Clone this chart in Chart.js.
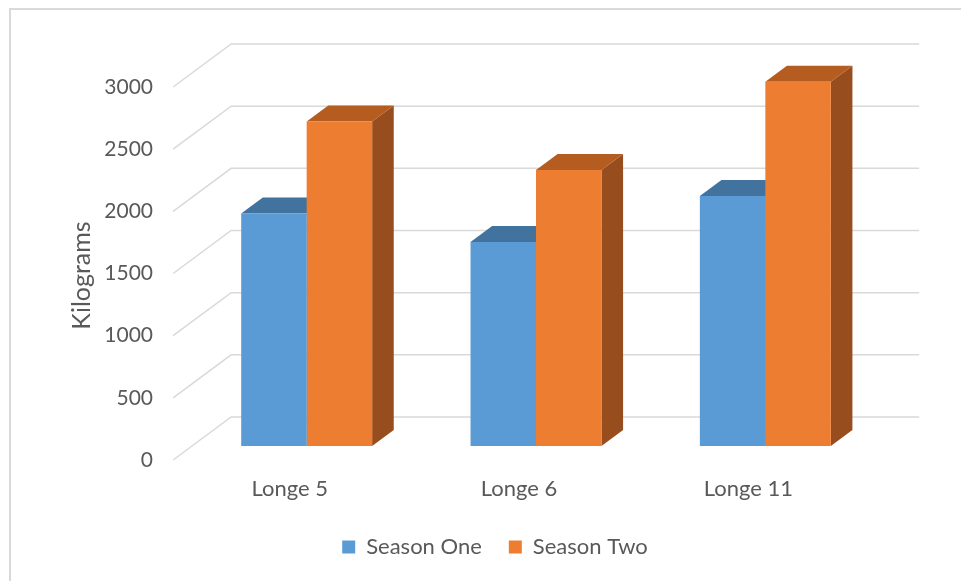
<!DOCTYPE html>
<html>
<head>
<meta charset="utf-8">
<script src="https://cdn.jsdelivr.net/npm/chart.js@4.4.1/dist/chart.umd.min.js"></script>
<style>
  html, body { margin: 0; padding: 0; background: #ffffff; }
  #wrap { position: relative; width: 961px; height: 581px; overflow: hidden; }
  #frame { position: absolute; left: 9px; top: 8px; width: 1000px; height: 600px;
           border-left: 2px solid #d9d9d9; border-top: 2px solid #d9d9d9; }
  #c { position: absolute; left: 0; top: 0; }
</style>
</head>
<body>
<div id="wrap">
  <div id="frame"></div>
  <canvas id="c" width="961" height="581"></canvas>
</div>
<script>
// Harvest per plot, in kilograms
const categories = ['Longe 5', 'Longe 6', 'Longe 11'];
const seriesNames = ['Season One', 'Season Two'];
const seasonOne = [1870, 1640, 2010];
const seasonTwo = [2610, 2220, 2930];
const yTickStep = 500;
const yMax = 3000;

// Colours of the three visible faces of each column
const frontColors = ['#5b9bd5', '#ed7d31'];
const topColors   = ['#42729e', '#b55d21'];
const sideColors  = ['#3b6a94', '#974d1d'];

const TEXT = '#595959';
const GRID = '#d9d9d9';
const FONT = 'Lato';

// Oblique projection: depth runs up and to the right
const SLOPE = 1.35;       // horizontal shift per pixel of vertical depth
const WALL_BACK = 29;     // back wall behind the column fronts
const WALL_FRONT = 14;    // front edge of the floor, in front of the columns
const BAR_DEPTH = 16;     // depth of one column

const PAD_LEFT = 29, PAD_RIGHT = 0, PAD_TOP = 73, PAD_BOTTOM = 13;
const PLOT_LEFT = 192;    // left edge of the plot area
const RIGHT_GUTTER = 81;  // empty band right of the plot area

const depth3d = {
  id: 'depth3d',
  beforeDatasetsDraw(chart) {
    const { ctx, chartArea: a, scales: { y } } = chart;
    ctx.save();
    // back wall gridlines with the side-wall diagonals
    ctx.strokeStyle = GRID;
    ctx.lineWidth = 1.5;
    y.ticks.forEach(t => {
      const py = y.getPixelForValue(t.value);
      const by = py - WALL_BACK;
      const bx0 = a.left + WALL_BACK * SLOPE;
      const bx1 = a.right + WALL_BACK * SLOPE;
      const fy = py + WALL_FRONT;
      const fx = a.left - WALL_FRONT * SLOPE;
      ctx.beginPath();
      ctx.moveTo(fx, fy);
      ctx.lineTo(bx0, by);
      ctx.lineTo(bx1, by);
      ctx.stroke();
    });
    // top and right faces of the columns; fronts are drawn by the bar controller
    chart.data.datasets.forEach((ds, i) => {
      const meta = chart.getDatasetMeta(i);
      meta.data.forEach(bar => {
        const { x, y: top, base, width } = bar.getProps(['x', 'y', 'base', 'width'], true);
        const l = x - width / 2, r = x + width / 2;
        const dx = BAR_DEPTH * SLOPE, dy = BAR_DEPTH;
        ctx.fillStyle = sideColors[i];
        ctx.beginPath();
        ctx.moveTo(r, top);
        ctx.lineTo(r + dx, top - dy);
        ctx.lineTo(r + dx, base - dy);
        ctx.lineTo(r, base);
        ctx.closePath();
        ctx.fill();
        ctx.fillStyle = topColors[i];
        ctx.beginPath();
        ctx.moveTo(l, top);
        ctx.lineTo(r, top);
        ctx.lineTo(r + dx, top - dy);
        ctx.lineTo(l + dx, top - dy);
        ctx.closePath();
        ctx.fill();
      });
    });
    ctx.restore();
  }
};

new Chart(document.getElementById('c'), {
  type: 'bar',
  data: {
    labels: categories,
    datasets: [
      { label: seriesNames[0], data: seasonOne, backgroundColor: frontColors[0], borderWidth: 0 },
      { label: seriesNames[1], data: seasonTwo, backgroundColor: frontColors[1], borderWidth: 0 }
    ]
  },
  options: {
    responsive: false,
    animation: false,
    datasets: { bar: { categoryPercentage: 0.571, barPercentage: 1.0 } },
    layout: { padding: { left: PAD_LEFT, right: PAD_RIGHT, top: PAD_TOP, bottom: PAD_BOTTOM } },
    plugins: {
      tooltip: { enabled: false },
      legend: {
        position: 'bottom',
        labels: {
          boxWidth: 13, boxHeight: 13, padding: 27,
          color: TEXT, font: { family: FONT, size: 22 }
        }
      }
    },
    scales: {
      x: {
        grid: { display: false, drawTicks: false },
        border: { display: false },
        ticks: { color: TEXT, font: { family: FONT, size: 22 }, padding: 30, labelOffset: -17 },
        afterFit: s => { s.height = 63; }
      },
      y: {
        min: 0, max: yMax,
        grid: { display: false, drawTicks: false },
        border: { display: false },
        ticks: {
          stepSize: yTickStep, color: TEXT, font: { family: FONT, size: 21 },
          padding: 39, labelOffset: 14, callback: v => String(v)
        },
        title: {
          // trailing spaces lower the centred title slightly along the axis
          display: true, text: 'Kilograms     ', color: TEXT,
          font: { family: FONT, size: 25 }, padding: { top: 38, bottom: 0 }
        },
        afterFit: s => { s.width = PLOT_LEFT - PAD_LEFT; }
      },
      // blank gutter on the right side of the plot
      yGutter: {
        position: 'right', display: true, min: 0, max: yMax,
        grid: { display: false, drawTicks: false },
        border: { display: false },
        ticks: { display: false },
        afterFit: s => { s.width = RIGHT_GUTTER - PAD_RIGHT; }
      }
    }
  },
  plugins: [depth3d]
});
</script>
</body>
</html>
